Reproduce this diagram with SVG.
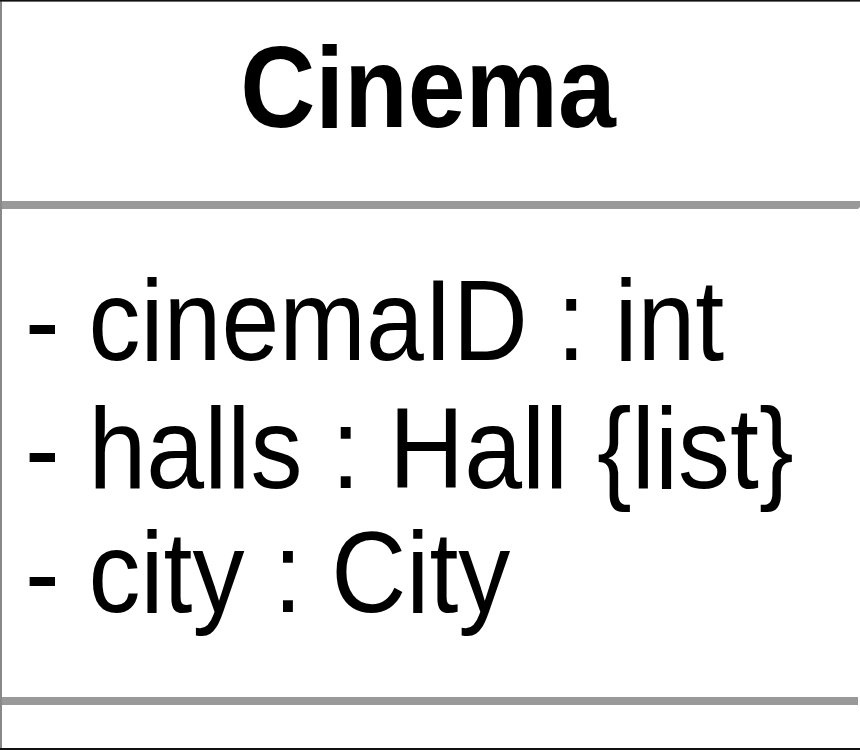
<svg xmlns="http://www.w3.org/2000/svg" width="860" height="750" viewBox="0 0 860 750">
<style>
.t{font-family:"Liberation Sans",Arial,Helvetica,sans-serif;fill:#000}
.b{font-weight:bold}
.sep{fill:#999}
</style>
<rect x="0" y="0" width="860" height="750" fill="#fff"/>
<g id="cinema">
<rect x="1" y="0.5" width="880" height="748.5" fill="#fff" stroke="#888" stroke-width="2"/>
<line x1="0" y1="0.5" x2="860" y2="0.5" stroke="#111" stroke-width="2"/>
<line x1="0" y1="749" x2="860" y2="749" stroke="#111" stroke-width="2"/>
<rect class="sep" x="2" y="201" width="856" height="8"/>
<polygon class="sep" points="858,201 860,201 860,207 858,209"/>
<rect class="sep" x="2" y="697" width="856" height="8"/>
<text class="t b" transform="translate(428,127) scale(1,1.1)" text-anchor="middle" font-size="104">Cinema</text>
<text class="t" transform="translate(25,360) scale(1,1.1)" font-size="104">- cinemaID : int</text>
<text class="t" transform="translate(25,488) scale(1,1.1)" font-size="104">- halls : Hall {list}</text>
<text class="t" transform="translate(25,612) scale(1,1.1)" font-size="104">- city : City</text>
</g>
<g id="connectors"/>
</svg>
